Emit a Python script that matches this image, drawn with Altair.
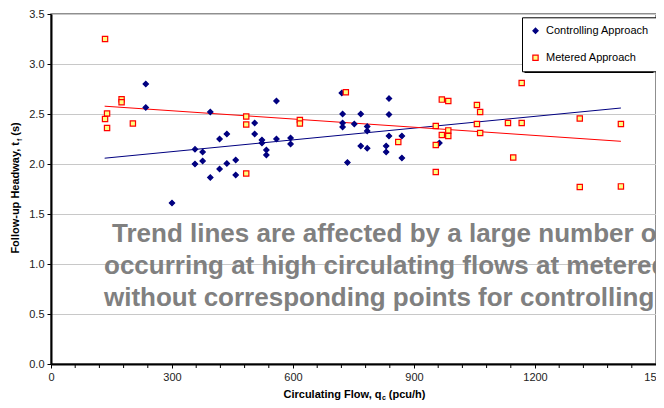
import altair as alt
import pandas as pd

# ---- data ----
ctrl_q = [235, 235, 300, 357, 357, 376, 376, 395, 395, 418, 418, 436, 436, 458, 458,
          505, 505, 523, 523, 534, 534, 559, 559, 594, 594, 721, 723, 723, 723, 735,
          752, 768, 768, 784, 784, 784, 831, 831, 838, 838, 838, 870, 870, 963]
ctrl_tf = [2.80, 2.565, 1.61, 2.147, 2.00, 2.12, 2.03, 2.52, 1.866, 2.25, 1.95, 2.30, 2.005, 2.04, 1.89,
           2.41, 2.30, 2.24, 2.21, 2.14, 2.09, 2.63, 2.25, 2.26, 2.20, 2.71, 2.50, 2.41, 2.37, 2.015,
           2.40, 2.50, 2.18, 2.375, 2.33, 2.157, 2.18, 2.12, 2.654, 2.495, 2.28, 2.28, 2.06, 2.21]

met_q = [134, 139, 134, 139, 175, 175, 203, 484, 484, 484, 617, 617, 731, 861, 954, 954, 954,
         969, 985, 969, 985, 985, 1056, 1064, 1056, 1064, 1133, 1146, 1167, 1167, 1311, 1311, 1413, 1413]
met_tf = [3.25, 2.505, 2.45, 2.36, 2.647, 2.617, 2.405, 2.475, 2.395, 1.905, 2.44, 2.405, 2.717, 2.22,
          2.38, 2.19, 1.92, 2.644, 2.63, 2.29, 2.336, 2.28, 2.59, 2.52, 2.40, 2.31, 2.41, 2.065,
          2.81, 2.41, 2.455, 1.77, 2.40, 1.776]

trend_q = [133, 1413]
ctrl_trend = [2.058, 2.56]
met_trend = [2.578, 2.227]

series_names = ["Controlling Approach", "Metered Approach"]
x_major = [0, 300, 600, 900, 1200, 1500]
x_minor = [v for v in range(60, 1500, 60) if v % 300 != 0]
y_ticks = [0, 0.5, 1.0, 1.5, 2.0, 2.5, 3.0, 3.5]

note_line1 = "Trend lines are affected by a large number of points"
note_line2 = "occurring at high circulating flows at metered approaches"
note_line3 = "without corresponding points for controlling approaches"

FONT = "Arial, Liberation Sans"
W, H = 605, 350
TOP = 6

pts = pd.DataFrame({
    "q": ctrl_q + met_q,
    "tf": ctrl_tf + met_tf,
    "series": [series_names[0]] * len(ctrl_q) + [series_names[1]] * len(met_q),
})
trend_c = pd.DataFrame({"q": trend_q, "tf": ctrl_trend})
trend_m = pd.DataFrame({"q": trend_q, "tf": met_trend})
minor_df = pd.DataFrame({"q": x_minor})
one = pd.DataFrame({"a": [0]})

xscale = alt.Scale(domain=[0, 1500], nice=False, zero=True)
xenc = alt.X("q:Q", scale=xscale,
             axis=alt.Axis(values=x_major, format="d",
                           grid=False, title=None, domainColor="black", domainWidth=2,
                           tickColor="black", tickSize=4, labelFontSize=11, labelPadding=3,
                           labelColor="#222222", labelFont=FONT, labelFlush=False,
                           labelOverlap=False))
yenc = alt.Y("tf:Q", scale=alt.Scale(domain=[0, 3.5], nice=False, zero=True),
             axis=alt.Axis(values=y_ticks, format=".1f", grid=True, gridColor="#C8C8C8",
                           gridWidth=1, title=None, domainColor="black", domainWidth=2,
                           tickColor="black", tickSize=4, labelFontSize=11, labelPadding=3,
                           labelColor="#222222", labelFont=FONT, labelFlush=False,
                           labelOverlap=False))

dy = 12 - (TOP + 8)  # shift of plot-relative coordinates vs. page layout
leg = alt.Legend(title=None, orient="none", legendX=471, legendY=5.3 + dy)

points = alt.Chart(pts).mark_point(size=28, strokeWidth=1.2, opacity=1).encode(
    x=xenc, y=yenc,
    color=alt.Color("series:N", scale=alt.Scale(domain=series_names, range=["#000080", "#FF0000"]), legend=leg),
    fill=alt.Fill("series:N", scale=alt.Scale(domain=series_names, range=["#000080", "#FFFF80"]), legend=leg),
    shape=alt.Shape("series:N", scale=alt.Scale(domain=series_names, range=["diamond", "square"]), legend=leg),
)

line_c = alt.Chart(trend_c).mark_line(color="#000080", strokeWidth=1).encode(x="q:Q", y="tf:Q")
line_m = alt.Chart(trend_m).mark_line(color="#FF0000", strokeWidth=1).encode(x="q:Q", y="tf:Q")

minor = alt.Chart(minor_df).mark_rule(color="black", strokeWidth=1).encode(
    x=alt.X("q:Q", scale=xscale), y=alt.value(H), y2=alt.value(H + 4))

# legend shadow
shadow = alt.Chart(one).mark_rect(color="black").encode(
    x=alt.value(473.5), x2=alt.value(602.5), y=alt.value(7.5 + dy), y2=alt.value(61 + dy))

def note(txt, x, y):
    return alt.Chart(one).mark_text(text=txt, align="left", baseline="alphabetic",
                                    font=FONT, fontSize=26, fontWeight="bold",
                                    color="#808080").encode(x=alt.value(x), y=alt.value(y + dy))

n1 = note(note_line1, 61, 229.7)
n2 = note(note_line2, 53, 262)
n3 = note(note_line3, 53, 294.3)

def title_part(txt, x, y, size, angle=0):
    return alt.Chart(one).mark_text(text=txt, align="left", baseline="alphabetic", angle=angle,
                                    font=FONT, fontSize=size, fontWeight="bold",
                                    color="black").encode(x=alt.value(x), y=alt.value(y + dy))

# x axis title with subscript
xt1 = title_part("Circulating Flow, q", 232.5, 385.5, 11)
xt2 = title_part("c", 330.9, 388, 7)
xt3 = title_part("(pcu/h)", 337.8, 385.5, 11)

# y axis title with subscript (rotated)
yt1 = title_part("Follow-up Headway, t", -32, 241.6, 11, 270)
yt2 = title_part("f", -29.5, 129.1, 7, 270)
yt3 = title_part("(s)", -32, 123.7, 11, 270)

chart = alt.layer(minor, line_c, line_m, points, shadow, n1, n2, n3,
                  xt1, xt2, xt3, yt1, yt2, yt3).properties(
    width=W, height=H,
    padding={"left": 43, "top": TOP, "right": 0, "bottom": 392 - TOP - H},
    autosize=alt.AutoSizeParams(type="none"),
    background="white",
).configure_view(stroke="#6b6b6b", strokeWidth=1.5).configure_legend(
    strokeColor="black", fillColor="white", padding=8, rowPadding=15,
    symbolSize=28, symbolStrokeWidth=1.2, labelFontSize=11, labelFont=FONT,
    labelColor="black", labelOffset=5, symbolOffset=0,
)

chart.save("out.html", embed_options={"renderer": "svg", "actions": False})
